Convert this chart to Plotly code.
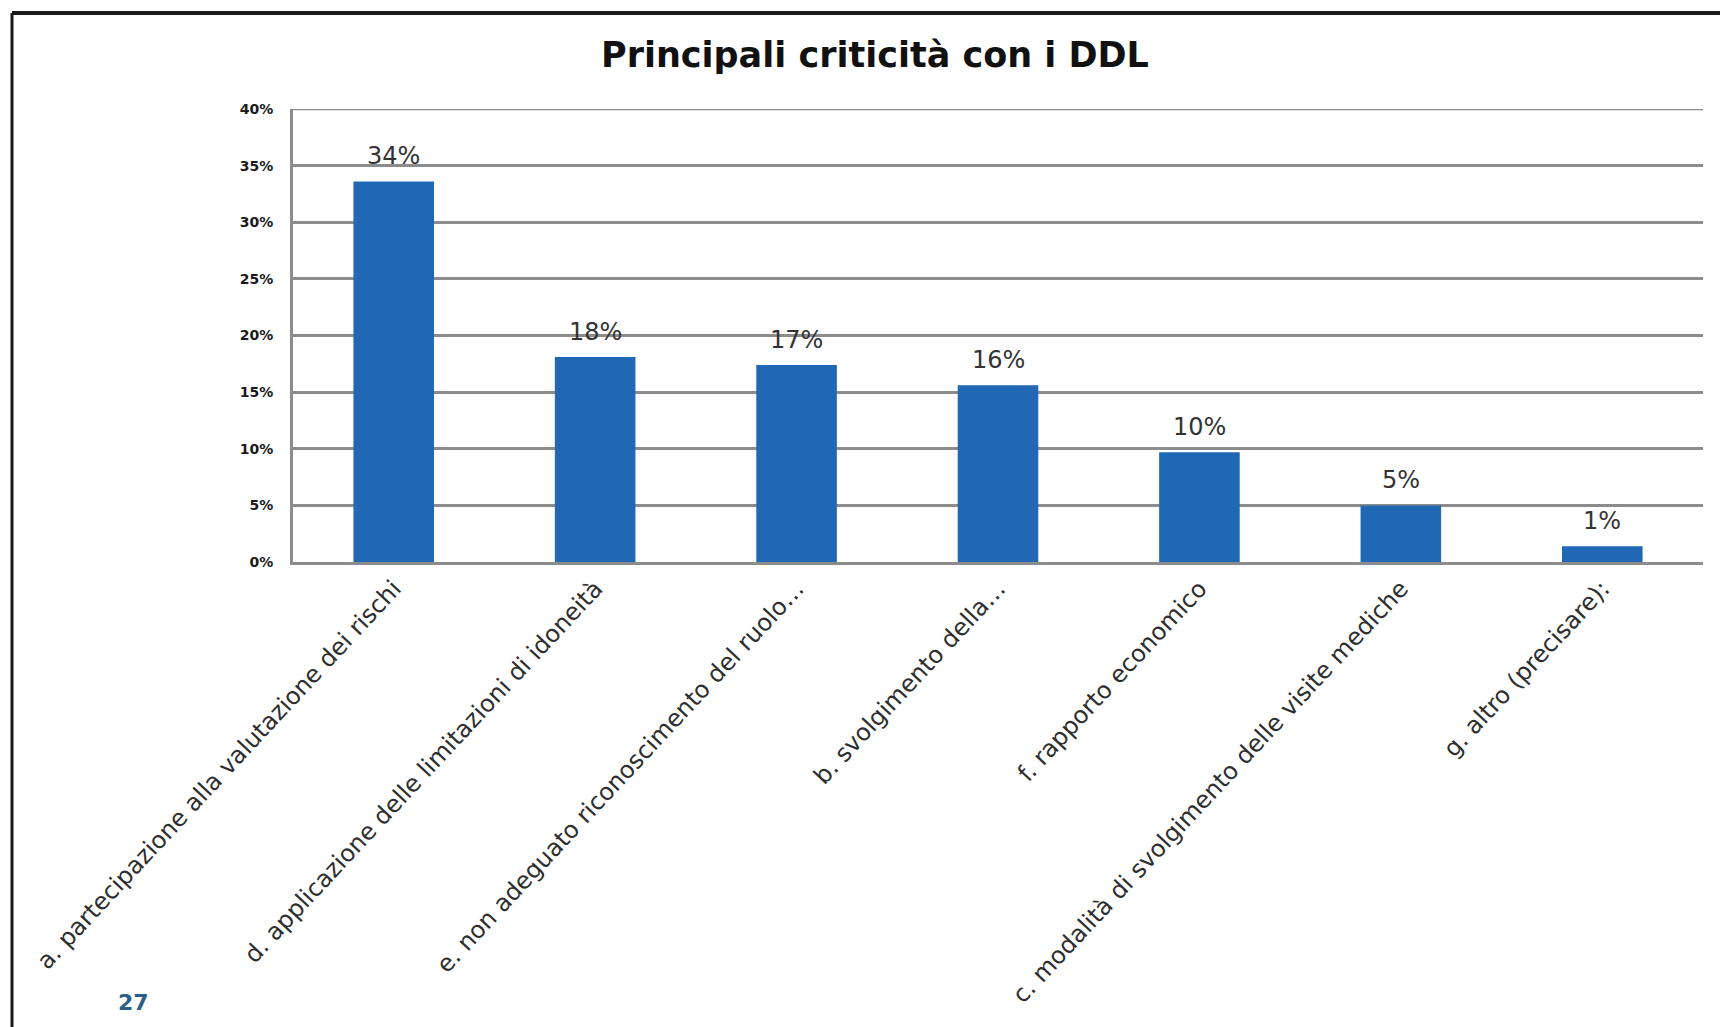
import plotly.graph_objects as go

# Survey results: main issues reported with employers (DDL)
categories = [
    "a. partecipazione alla valutazione dei rischi",
    "d. applicazione delle limitazioni di idoneità",
    "e. non adeguato riconoscimento del ruolo…",
    "b. svolgimento della…",
    "f. rapporto economico",
    "c. modalità di svolgimento delle visite mediche",
    "g. altro (precisare):",
]
shares = [0.336, 0.181, 0.174, 0.156, 0.097, 0.050, 0.014]
y_ticks = [0, 0.05, 0.10, 0.15, 0.20, 0.25, 0.30, 0.35, 0.40]
y_tick_labels = ["0%", "5%", "10%", "15%", "20%", "25%", "30%", "35%", "40%"]

title_text = "Principali criticità con i DDL"
page_number = "27"

W, H = 1720, 1027
L, R, T, B = 293, 17, 109, 465
plot_w = W - L - R
plot_h = H - T - B


def px_x(px):
    return (px - L) / plot_w


def px_y(py):
    return (H - B - py) / plot_h


grid_color = "#8c8c8c"
fig = go.Figure()
fig.add_trace(go.Bar(
    x=categories,
    y=shares,
    marker=dict(color="#2068b4", line=dict(width=0)),
    hoverinfo="skip",
))

# value labels sitting a little above each bar
for cat, val in zip(categories, shares):
    fig.add_annotation(
        x=cat, y=val, xref="x", yref="y",
        text=f"{val:.0%}", showarrow=False,
        xanchor="center", yanchor="bottom", yshift=9,
        font=dict(family="DejaVu Sans", size=24, color="#333333"),
    )

fig.update_layout(
    width=W, height=H,
    margin=dict(l=L, r=R, t=T, b=B, pad=0),
    paper_bgcolor="white", plot_bgcolor="white",
    showlegend=False,
    bargap=0.6,
    font=dict(family="DejaVu Sans", color="#222222"),
    xaxis=dict(
        tickangle=-47,
        tickfont=dict(family="DejaVu Sans", size=24, color="#2e2e2e"),
        showline=True, linecolor=grid_color, linewidth=3,
        showgrid=False, zeroline=False, ticks="",
        automargin=False,
    ),
    yaxis=dict(
        range=[0, 0.40],
        tickvals=y_ticks,
        ticktext=y_tick_labels,
        tickfont=dict(family="DejaVu Sans", size=14, color="#1a1a1a", weight="bold"),
        ticklabelstandoff=14,
        showgrid=True, gridcolor=grid_color, gridwidth=2.5,
        showline=True, linecolor=grid_color, linewidth=3,
        zeroline=False, ticks="",
        automargin=False,
    ),
)

# top gridline at the upper end of the value range
fig.add_shape(type="line", xref="paper", yref="y",
              x0=0, x1=1, y0=y_ticks[-1], y1=y_ticks[-1],
              line=dict(color=grid_color, width=2.5))

fig.add_annotation(
    text="<b>" + title_text + "</b>", xref="paper", yref="paper",
    x=px_x(875), y=px_y(55), xanchor="center", yanchor="middle",
    showarrow=False,
    font=dict(family="DejaVu Sans", size=35, color="#111111"),
)
fig.add_annotation(
    text="<b>" + page_number + "</b>", xref="paper", yref="paper",
    x=px_x(133), y=px_y(1003), xanchor="center", yanchor="middle",
    showarrow=False,
    font=dict(family="DejaVu Sans", size=22, color="#2b5f86"),
)

# Slide frame: dark rule along the top and left edges
fig.add_shape(type="line", xref="paper", yref="paper",
              x0=px_x(12), x1=px_x(W + 5), y0=px_y(13), y1=px_y(13),
              line=dict(color="#1a1a1a", width=4))
fig.add_shape(type="line", xref="paper", yref="paper",
              x0=px_x(12), x1=px_x(12), y0=px_y(13), y1=px_y(H + 5),
              line=dict(color="#1a1a1a", width=3))

fig.write_html("out.html")
